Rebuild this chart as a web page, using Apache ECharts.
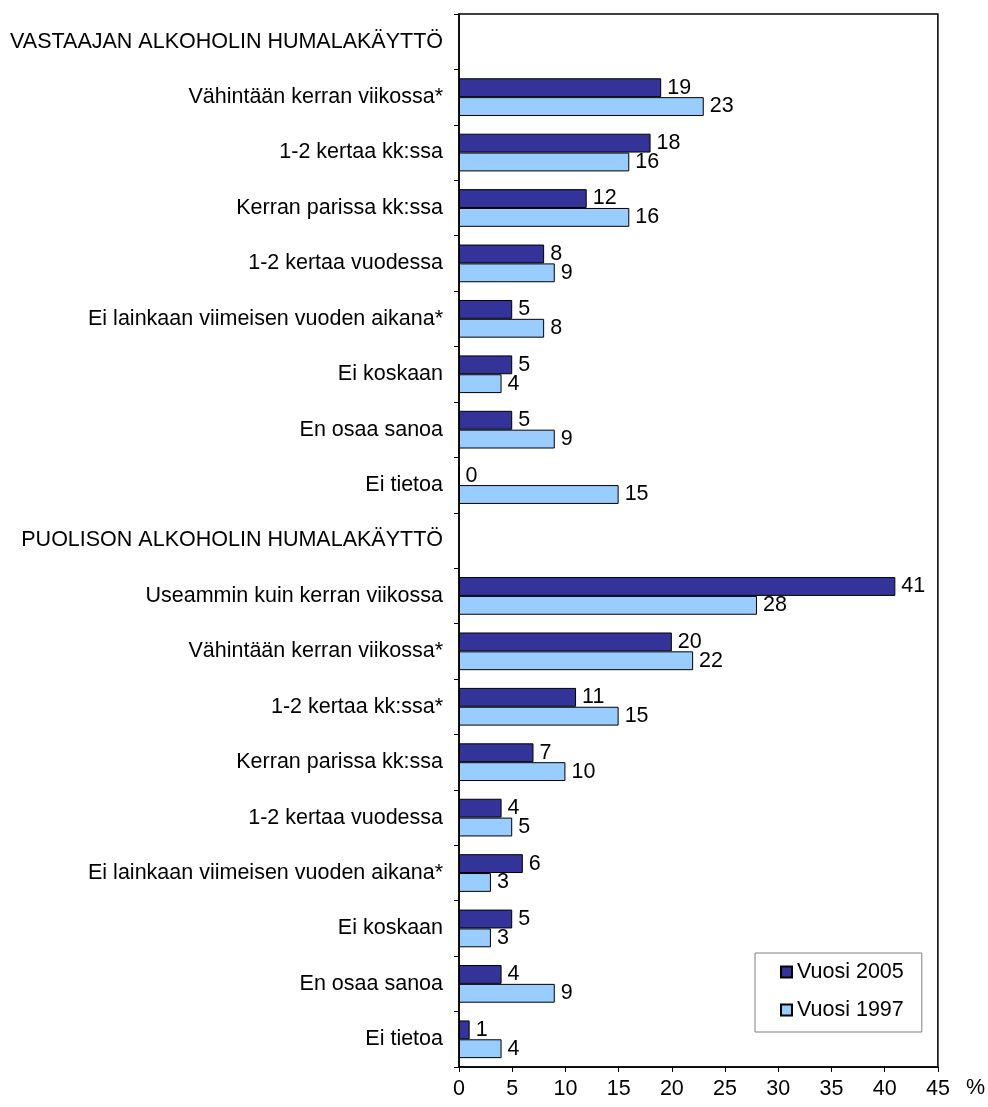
<!DOCTYPE html>
<html>
<head>
<meta charset="utf-8">
<script src="https://cdn.jsdelivr.net/npm/echarts@6/dist/echarts.min.js"></script>
<style>html,body{margin:0;padding:0;background:#fff}#c{width:988px;height:1107px}</style>
</head>
<body>
<div id="c"></div>
<script>
const categories = [
  'VASTAAJAN ALKOHOLIN HUMALAKÄYTTÖ',
  'Vähintään kerran viikossa*',
  '1-2 kertaa kk:ssa',
  'Kerran parissa kk:ssa',
  '1-2 kertaa vuodessa',
  'Ei lainkaan viimeisen vuoden aikana*',
  'Ei koskaan',
  'En osaa sanoa',
  'Ei tietoa',
  'PUOLISON ALKOHOLIN HUMALAKÄYTTÖ',
  'Useammin kuin kerran viikossa',
  'Vähintään kerran viikossa*',
  '1-2 kertaa kk:ssa*',
  'Kerran parissa kk:ssa',
  '1-2 kertaa vuodessa',
  'Ei lainkaan viimeisen vuoden aikana*',
  'Ei koskaan',
  'En osaa sanoa',
  'Ei tietoa'
];
const seriesNames = ['Vuosi 2005', 'Vuosi 1997'];
const values2005 = [null, 19, 18, 12, 8, 5, 5, 5, 0, null, 41, 20, 11, 7, 4, 6, 5, 4, 1];
const values1997 = [null, 23, 16, 16, 9, 8, 4, 9, 15, null, 28, 22, 15, 10, 5, 3, 3, 9, 4];
const axisMin = 0, axisMax = 45, axisStep = 5;
const axisUnit = '%';

const font = 'Liberation Sans, Arial, sans-serif';
const fs = 21.5;
const chart = echarts.init(document.getElementById('c'), null, {renderer: 'canvas'});
const label = {show: true, position: 'right', distance: 6, color: '#000', fontSize: fs, fontFamily: font};
chart.setOption({
  animation: false,
  backgroundColor: '#fff',
  textStyle: {fontFamily: font},
  grid: {left: 459, right: 49, top: 14, bottom: 40, show: true, borderColor: '#000', borderWidth: 1.5, containLabel: false},
  legend: {
    orient: 'vertical', left: 755, top: 953,
    padding: [8, 18, 11, 25], itemGap: 16, itemWidth: 11, itemHeight: 11,
    borderColor: '#808080', borderWidth: 1, backgroundColor: '#fff',
    textStyle: {fontSize: fs, color: '#000', fontFamily: font},
    icon: 'rect',
    data: seriesNames
  },
  xAxis: {
    type: 'value', min: axisMin, max: axisMax, interval: axisStep,
    name: axisUnit, nameLocation: 'end', nameGap: 28,
    nameTextStyle: {fontSize: fs, color: '#000', verticalAlign: 'top', padding: [10, 0, 0, 0], fontFamily: font},
    splitLine: {show: false},
    axisLine: {show: true, lineStyle: {color: '#000', width: 1.5}},
    axisTick: {show: true, length: 5, lineStyle: {color: '#000'}},
    axisLabel: {fontSize: fs, color: '#000', margin: 11, fontFamily: font}
  },
  yAxis: {
    type: 'category', inverse: true, data: categories,
    axisLine: {show: true, lineStyle: {color: '#000', width: 1.5}},
    axisTick: {show: true, length: 5, lineStyle: {color: '#000'}},
    axisLabel: {fontSize: fs, color: '#000', margin: 16, fontFamily: font, interval: 0}
  },
  series: [
    {name: seriesNames[0], type: 'bar', data: values2005, barGap: '0%', barCategoryGap: '32%',
     itemStyle: {color: '#333399', borderColor: '#000', borderWidth: 1}, label: label},
    {name: seriesNames[1], type: 'bar', data: values1997, barGap: '0%', barCategoryGap: '32%',
     itemStyle: {color: '#99CCFF', borderColor: '#000', borderWidth: 1}, label: label}
  ]
});
</script>
</body>
</html>
